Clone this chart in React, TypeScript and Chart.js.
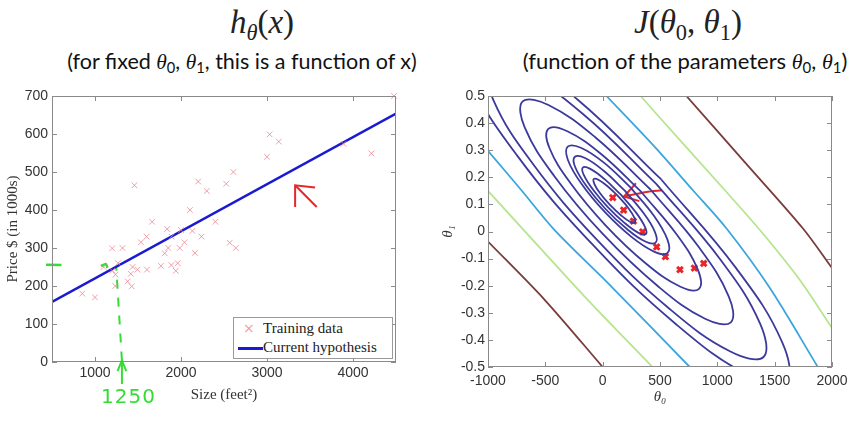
import React, { useEffect, useRef } from 'react';
import { Chart, registerables } from 'chart.js';

Chart.register(...registerables);

type Pt = [number, number];

// ---------------- left panel: h_theta(x) ----------------
const trainSize = [2104, 1600, 2400, 1416, 3000, 1985, 1534, 1427, 1380, 1494, 1940, 2000, 1890, 4478, 1268, 2300, 1320, 1236, 2609, 3031, 1767, 1888, 1604, 1962, 3890, 1100, 1458, 2526, 2200, 2637, 1839, 1000, 2040, 3137, 1811, 1437, 1239, 2132, 4215, 2162, 1664, 2238, 2567, 1200, 852, 1852, 1203];
const trainPrice = [400, 330, 369, 232, 540, 300, 315, 199, 212, 243, 240, 347, 330, 700, 260, 450, 300, 200, 500, 599, 253, 255, 243, 260, 574, 250, 465, 469, 475, 300, 350, 170, 315, 580, 286, 250, 230, 345, 549, 287, 369, 330, 314, 299, 180, 300, 240];
const hypothesisSize = [500, 4500];
const hypothesisPrice = [158, 654];
const sizeTicks = [1000, 2000, 3000, 4000];
const priceTicks = [0, 100, 200, 300, 400, 500, 600, 700];

// hand-drawn annotations (data coordinates)
const greenDrop: Pt[] = [[1313, 4], [1247, 250]];
const greenArrowStem: Pt[] = [[1313, -58], [1313, 4]];
const greenArrowHead: Pt[] = [[1262, -24], [1313, 4], [1364, -24]];
const greenLevelMark: Pt[] = [[430, 256], [610, 255]];
const greenHook: Pt[] = [[1070, 252], [1125, 258], [1145, 248]];
const redArrowLeftShaft: Pt[] = [[3578, 408], [3327, 465]];
const redArrowLeftHead: Pt[] = [[3327, 408], [3327, 465], [3559, 459]];

// ---------------- right panel: J(theta0, theta1) ----------------
const theta0Ticks = [-1000, -500, 0, 500, 1000, 1500, 2000];
const theta1Ticks = [-0.5, -0.4, -0.3, -0.2, -0.1, 0, 0.1, 0.2, 0.3, 0.4, 0.5];
const descentTheta0 = [88, 183, 268, 349, 471, 547, 674, 800, 881];
const descentTheta1 = [0.125, 0.079, 0.038, -0.001, -0.057, -0.093, -0.141, -0.135, -0.118];

const ring1: Pt[] = [[140, 0.128], [45, 0.166], [-34, 0.19], [-77, 0.194], [-72, 0.175], [-21, 0.14], [64, 0.098], [159, 0.06], [238, 0.036], [281, 0.033], [276, 0.051], [225, 0.086], [140, 0.128]];
const ring2: Pt[] = [[159, 0.136], [14, 0.194], [-108, 0.231], [-173, 0.236], [-165, 0.209], [-85, 0.155], [45, 0.09], [190, 0.032], [312, -0.005], [377, -0.01], [369, 0.017], [289, 0.071], [159, 0.136]];
const ring3: Pt[] = [[193, 0.151], [6, 0.225], [-154, 0.271], [-244, 0.275], [-239, 0.237], [-140, 0.167], [25, 0.083], [212, 0.009], [372, -0.037], [462, -0.041], [457, -0.003], [358, 0.067], [193, 0.151]];
const ring4: Pt[] = [[244, 0.162], [11, 0.254], [-190, 0.309], [-305, 0.313], [-303, 0.264], [-185, 0.176], [18, 0.072], [251, -0.02], [452, -0.075], [567, -0.079], [565, -0.03], [447, 0.058], [244, 0.162]];
const ring5: Pt[] = [[339, 0.145], [-11, 0.285], [-308, 0.37], [-474, 0.379], [-464, 0.308], [-280, 0.178], [27, 0.022], [377, -0.118], [674, -0.203], [840, -0.212], [830, -0.141], [646, -0.011], [339, 0.145]];
const ring6: Pt[] = [[417, 0.155], [-65, 0.348], [-473, 0.467], [-698, 0.48], [-680, 0.384], [-423, 0.205], [3, -0.01], [485, -0.203], [893, -0.322], [1118, -0.335], [1100, -0.24], [843, -0.06], [417, 0.155]];
const loopB: Pt[] = [[469, 0.175], [-162, 0.43], [-694, 0.588], [-983, 0.608], [-953, 0.485], [-611, 0.251], [-49, -0.031], [582, -0.285], [1114, -0.443], [1403, -0.463], [1373, -0.34], [1031, -0.106], [469, 0.175]];
const loopA: Pt[] = [[511, 0.192], [-225, 0.489], [-845, 0.674], [-1182, 0.698], [-1146, 0.554], [-747, 0.281], [-91, -0.047], [645, -0.344], [1265, -0.529], [1602, -0.553], [1566, -0.409], [1167, -0.137], [511, 0.192]];
const cyanLow: Pt[] = [[-1000, 0.298], [-712, 0.154], [-421, 0.006], [76, -0.203], [759, -0.5]];
const cyanHigh: Pt[] = [[33, 0.5], [454, 0.312], [783, 0.154], [1082, 0.01], [1457, -0.208], [1875, -0.499]];
const greenLow: Pt[] = [[-1000, 0.15], [-690, 0.006], [-157, -0.24], [434, -0.5]];
const greenHigh: Pt[] = [[332, 0.5], [454, 0.441], [1062, 0.154], [1384, -0.001], [1718, -0.178], [2000, -0.356]];
const maroonLow: Pt[] = [[-1000, -0.037], [-506, -0.252], [0, -0.5]];
const maroonHigh: Pt[] = [[730, 0.5], [1237, 0.257], [1747, 0.011], [2000, -0.135]];
const redArrowRightShaft: Pt[] = [[520, 0.152], [380, 0.146], [186, 0.129]];
const redArrowRightHead: Pt[] = [[290, 0.178], [186, 0.129], [320, 0.112]];

const toXY = (p: Pt[]) => p.map(([x, y]) => ({ x, y }));

const TICK_FONT = { family: '"Liberation Sans", Arial, sans-serif', size: 14 };
const SERIF = '"Liberation Serif", "DejaVu Serif", serif';

const framePlugin = {
  id: 'matlabFrame',
  afterDatasetsDraw(chart: any) {
    const { ctx, chartArea: a, scales } = chart;
    ctx.save();
    ctx.strokeStyle = '#8a8a8a';
    ctx.lineWidth = 1;
    ctx.strokeRect(Math.round(a.left) + 0.5, Math.round(a.top) + 0.5, Math.round(a.width) - 1, Math.round(a.height) - 1);
    const L = 5;
    ctx.beginPath();
    scales.x.ticks.forEach((t: any) => {
      const px = Math.round(scales.x.getPixelForValue(t.value)) + 0.5;
      ctx.moveTo(px, a.bottom); ctx.lineTo(px, a.bottom - L);
      ctx.moveTo(px, a.top); ctx.lineTo(px, a.top + L);
    });
    scales.y.ticks.forEach((t: any) => {
      const py = Math.round(scales.y.getPixelForValue(t.value)) + 0.5;
      ctx.moveTo(a.left, py); ctx.lineTo(a.left + L, py);
      ctx.moveTo(a.right, py); ctx.lineTo(a.right - L, py);
    });
    ctx.stroke();
    ctx.restore();
  },
};

function lineDs(data: Pt[], color: string, width: number, extra: any = {}) {
  return {
    data: toXY(data),
    showLine: true,
    borderColor: color,
    borderWidth: width,
    pointRadius: 0,
    tension: 0.4,
    clip: 0,
    ...extra,
  };
}

function LeftChart() {
  const ref = useRef<HTMLCanvasElement>(null);
  useEffect(() => {
    const pts = trainSize.map((s, i) => ({ x: s, y: trainPrice[i] }));
    const hyp = hypothesisSize.map((s, i) => ({ x: s, y: hypothesisPrice[i] }));
    const green = '#33dd33';
    const red = '#e8262a';
    const chart = new Chart(ref.current as HTMLCanvasElement, {
      type: 'scatter',
      data: {
        datasets: [
          { data: pts, pointStyle: 'crossRot', pointRadius: 4, borderColor: 'rgba(236,128,142,0.75)', backgroundColor: 'rgba(236,128,142,0.75)', pointBorderWidth: 1, clip: false } as any,
          { data: hyp, showLine: true, borderColor: '#1a1ad2', borderWidth: 2.5, pointRadius: 0 } as any,
          lineDs(greenDrop, green, 2, { borderDash: [9, 9], tension: 0, clip: false }),
          lineDs(greenArrowStem, green, 2, { tension: 0, clip: false }),
          lineDs(greenArrowHead, green, 2, { tension: 0, clip: false }),
          lineDs(greenLevelMark, green, 2.5, { tension: 0, clip: false }),
          lineDs(greenHook, green, 2.5, { tension: 0.3, clip: false }),
          lineDs(redArrowLeftShaft, red, 2, { tension: 0 }),
          lineDs(redArrowLeftHead, red, 2, { tension: 0 }),
        ],
      },
      options: {
        animation: false,
        responsive: false,
        devicePixelRatio: 1,
        layout: { padding: { left: 0, top: 16, right: 34, bottom: 16 } },
        plugins: { legend: { display: false }, tooltip: { enabled: false } },
        elements: { line: { capBezierPoints: false } },
        scales: {
          x: {
            type: 'linear', min: 500, max: 4500,
            grid: { display: false, drawTicks: false },
            border: { display: false },
            afterBuildTicks: (s: any) => { s.ticks = sizeTicks.map((v) => ({ value: v })); },
            afterFit: (s: any) => { s.height = 46; },
            ticks: { font: TICK_FONT, color: '#333', padding: 3, maxRotation: 0, callback: (v: any) => String(v) },
            title: { display: true, text: 'Size (feet²)', font: { family: SERIF, size: 15 }, color: '#333', padding: { top: 0, bottom: 4 } },
          },
          y: {
            type: 'linear', min: 0, max: 700,
            grid: { display: false, drawTicks: false },
            border: { display: false },
            afterBuildTicks: (s: any) => { s.ticks = priceTicks.map((v) => ({ value: v })); },
            afterFit: (s: any) => { s.width = 52; },
            ticks: { font: TICK_FONT, color: '#333', padding: 4, callback: (v: any) => String(v) },
            title: { display: true, text: 'Price $ (in 1000s)', font: { family: SERIF, size: 15 }, color: '#333', padding: { top: 4, bottom: 0 } },
          },
        },
      } as any,
      plugins: [framePlugin],
    });
    return () => chart.destroy();
  }, []);
  return <canvas ref={ref} width={430} height={344} style={{ width: 430, height: 344, display: 'block' }} />;
}

function RightChart() {
  const ref = useRef<HTMLCanvasElement>(null);
  useEffect(() => {
    const blue = '#3b3a9c';
    const cyan = '#3aa6dc';
    const lgreen = '#b6e58e';
    const maroon = '#7a3b3b';
    const red = '#e8262a';
    const w = 1.8;
    const steps = descentTheta0.map((t, i) => ({ x: t, y: descentTheta1[i] }));
    const chart = new Chart(ref.current as HTMLCanvasElement, {
      type: 'scatter',
      data: {
        datasets: [
          lineDs(maroonLow, maroon, w, { tension: 0.3 }),
          lineDs(maroonHigh, maroon, w, { tension: 0.3 }),
          lineDs(greenLow, lgreen, w, { tension: 0.3 }),
          lineDs(greenHigh, lgreen, w, { tension: 0.3 }),
          lineDs(cyanLow, cyan, w, { tension: 0.3 }),
          lineDs(cyanHigh, cyan, w, { tension: 0.3 }),
          lineDs(loopA, blue, w),
          lineDs(loopB, blue, w),
          lineDs(ring6, blue, w),
          lineDs(ring5, blue, w),
          lineDs(ring4, blue, w),
          lineDs(ring3, blue, w),
          lineDs(ring2, blue, w),
          lineDs(ring1, blue, w),
          lineDs(redArrowRightShaft, red, 2, { tension: 0.3 }),
          lineDs(redArrowRightHead, red, 2, { tension: 0 }),
          { data: steps, pointStyle: 'crossRot', pointRadius: 4, pointBorderWidth: 3, borderColor: red, backgroundColor: red } as any,
        ],
      },
      options: {
        animation: false,
        responsive: false,
        devicePixelRatio: 1,
        layout: { padding: { left: 5, top: 16, right: 29, bottom: 14 } },
        plugins: { legend: { display: false }, tooltip: { enabled: false } },
        elements: { line: { capBezierPoints: false } },
        scales: {
          x: {
            type: 'linear', min: -1000, max: 2000,
            grid: { display: false, drawTicks: false },
            border: { display: false },
            afterBuildTicks: (s: any) => { s.ticks = theta0Ticks.map((v) => ({ value: v })); },
            afterFit: (s: any) => { s.height = 43; },
            ticks: { font: TICK_FONT, color: '#333', padding: 6, maxRotation: 0, callback: (v: any) => String(v) },
            title: { display: true, text: 'θ₀', font: { family: SERIF, size: 15, style: 'italic' }, color: '#333', padding: { top: 0, bottom: 4 } },
          },
          y: {
            type: 'linear', min: -0.5, max: 0.5,
            grid: { display: false, drawTicks: false },
            border: { display: false },
            afterBuildTicks: (s: any) => { s.ticks = theta1Ticks.map((v) => ({ value: v })); },
            afterFit: (s: any) => { s.width = 53; },
            ticks: { font: TICK_FONT, color: '#333', padding: 3, callback: (v: any) => (Math.abs(v) < 1e-9 ? '0' : Number(v).toFixed(1)) },
            title: { display: true, text: 'θ₁', font: { family: SERIF, size: 15, style: 'italic' }, color: '#333', padding: { top: 4, bottom: 0 } },
          },
        },
      } as any,
      plugins: [framePlugin],
    });
    return () => chart.destroy();
  }, []);
  return <canvas ref={ref} width={431} height={344} style={{ width: 431, height: 344, display: 'block' }} />;
}

const mathI: React.CSSProperties = { fontFamily: SERIF, fontStyle: 'italic' };
const subS: React.CSSProperties = { fontSize: '0.68em', verticalAlign: '-0.3em', lineHeight: 0 };
const SUBFONT = 'Lato, "Open Sans", sans-serif';

export default function App() {
  return (
    <div style={{ position: 'absolute', left: 0, top: 0, width: 861, height: 424, background: '#fff', overflow: 'hidden' }}>
      {/* titles */}
      <div style={{ position: 'absolute', left: 112, top: 0, width: 300, textAlign: 'center', fontFamily: SERIF, fontSize: 33, lineHeight: '44px', color: '#222' }}>
        <span style={mathI}>h</span><span style={{ ...subS, ...mathI }}>θ</span>(<span style={mathI}>x</span>)
      </div>
      <div style={{ position: 'absolute', left: 12, top: 47, width: 460, textAlign: 'center', fontFamily: SUBFONT, fontSize: 21.5, lineHeight: '28px', color: '#111', whiteSpace: 'nowrap' }}>
        (for fixed <span style={mathI}>θ</span><span style={subS}>0</span>, <span style={mathI}>θ</span><span style={subS}>1</span>, this is a function of x)
      </div>
      <div style={{ position: 'absolute', left: 538, top: 0, width: 300, textAlign: 'center', fontFamily: SERIF, fontSize: 33, lineHeight: '44px', color: '#222' }}>
        <span style={mathI}>J</span>(<span style={mathI}>θ</span><span style={subS}>0</span>, <span style={mathI}>θ</span><span style={subS}>1</span>)
      </div>
      <div style={{ position: 'absolute', left: 455, top: 47, width: 460, textAlign: 'center', fontFamily: SUBFONT, fontSize: 22, lineHeight: '28px', color: '#111', whiteSpace: 'nowrap' }}>
        (function of the parameters <span style={mathI}>θ</span><span style={subS}>0</span>, <span style={mathI}>θ</span><span style={subS}>1</span>)
      </div>

      <div style={{ position: 'absolute', left: 0, top: 80 }}>
        <LeftChart />
      </div>
      <div style={{ position: 'absolute', left: 430, top: 80 }}>
        <RightChart />
      </div>

      {/* legend of left panel */}
      <div style={{ position: 'absolute', left: 233, top: 317, width: 158, height: 40, border: '1px solid #9a9a9a', background: '#fff', fontFamily: SERIF, fontSize: 15, color: '#222' }}>
        <div style={{ position: 'absolute', left: 9, top: 1, color: 'rgba(236,128,142,0.8)', fontFamily: 'DejaVu Sans, sans-serif', fontSize: 14, lineHeight: '18px' }}>×</div>
        <div style={{ position: 'absolute', left: 29, top: 1, lineHeight: '18px', whiteSpace: 'nowrap' }}>Training data</div>
        <div style={{ position: 'absolute', left: 4, top: 29, width: 25, height: 2.5, background: '#1a1ad2' }} />
        <div style={{ position: 'absolute', left: 29, top: 20, lineHeight: '18px', whiteSpace: 'nowrap' }}>Current hypothesis</div>
      </div>

      {/* hand-written note */}
      <div style={{ position: 'absolute', left: 101, top: 384, fontFamily: '"DejaVu Sans", sans-serif', fontSize: 20, color: '#33dd33', letterSpacing: 1 }}>1250</div>
    </div>
  );
}
